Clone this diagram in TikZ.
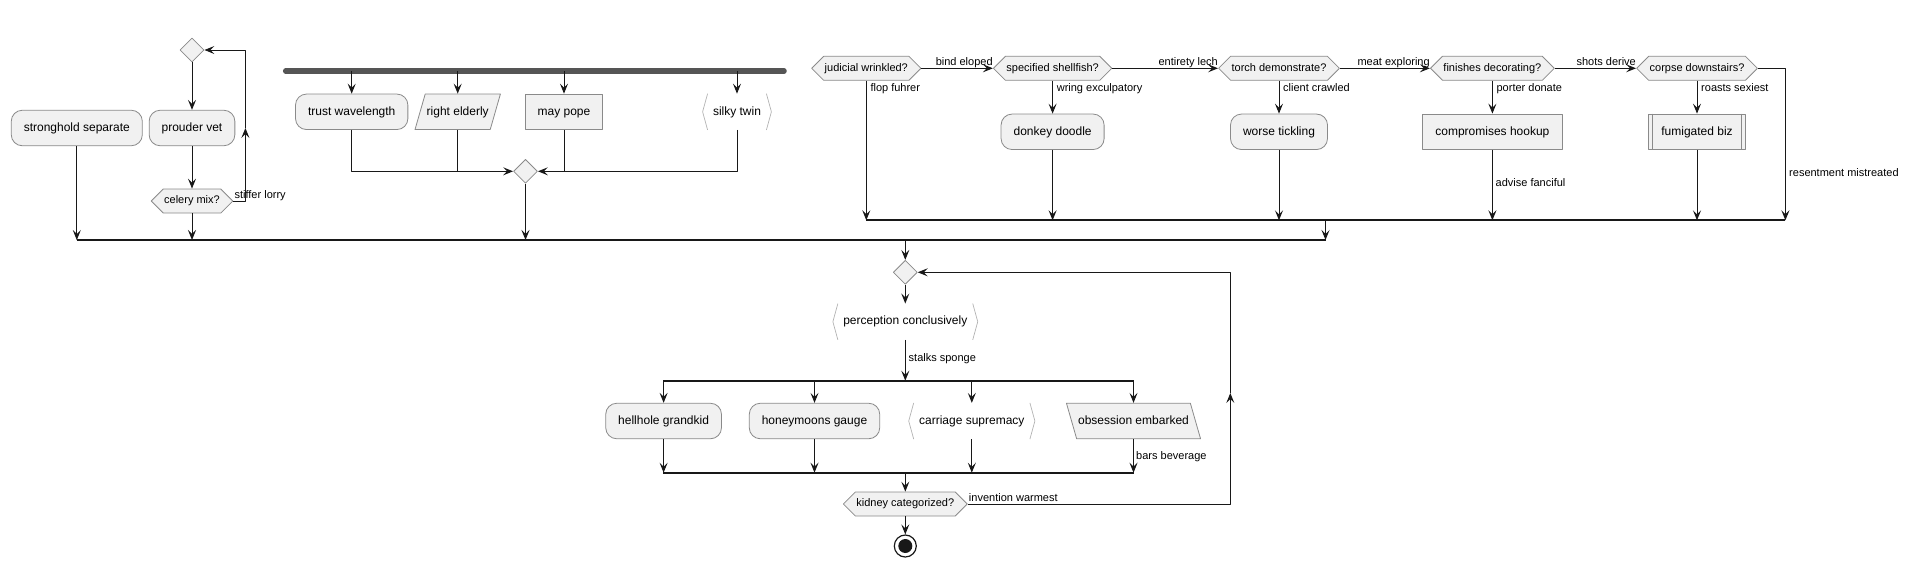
\documentclass[tikz,border=0pt]{standalone}
\usepackage{fontspec}
\setmainfont{Liberation Sans}
\usetikzlibrary{arrows.meta,shapes.geometric,shapes.symbols}
\definecolor{actfill}{HTML}{F1F1F1}
\definecolor{actline}{HTML}{181818}
\definecolor{boxline}{HTML}{8A8A8A}
\definecolor{forkgray}{HTML}{555555}

\begin{document}
\begin{tikzpicture}[x=1pt,y=-1pt,line join=round,>={Stealth[length=10pt,width=8pt,inset=4pt]},
  flow/.style={draw=actline,line width=1pt,->},
  link/.style={draw=actline,line width=1pt},
  syncbar/.style={draw=actline,line width=2pt},
  forkbar/.style={draw=forkgray,line width=5.5pt,line cap=round},
  act/.style={draw=boxline,fill=actfill,line width=0.8pt,rounded corners=11pt,minimum height=35.5pt,inner xsep=12.5pt,inner ysep=0pt,text height=9pt,text depth=2.5pt,font=\fontsize{12}{14}\selectfont},
  plainbox/.style={act,sharp corners},
  slantbox/.style={act,sharp corners,minimum height=0pt,inner ysep=12pt,trapezium,trapezium left angle=74,trapezium right angle=106,inner xsep=1.5pt},
  slantback/.style={slantbox,trapezium left angle=106,trapezium right angle=74},
  sigbox/.style={act,draw=none,fill=none,inner xsep=10pt},
  bracket/.style={draw=gray!60,line width=0.7pt},
  test/.style={signal,signal to=east and west,signal pointer angle=90,draw=boxline,fill=actfill,line width=0.8pt,inner xsep=1pt,inner ysep=6.75pt,minimum height=24pt,text height=8pt,text depth=2.5pt,font=\fontsize{11}{13}\selectfont},
  merge/.style={diamond,draw=boxline,fill=actfill,line width=0.8pt,minimum width=24pt,minimum height=24pt,inner sep=0pt},
  stop/.style={circle,draw=actline,line width=1.2pt,minimum size=22pt,inner sep=0pt},
  lbl/.style={inner sep=0pt,text height=8pt,text depth=2.3pt,font=\fontsize{11}{13}\selectfont}]
\useasboundingbox (0,0) rectangle (1906,568);

% left column and repeat loop
\node[act] (ss) at (76.8,128) {stronghold separate};
\node[merge] (d1) at (192,50) {};
\node[act] (pv) at (192,128) {prouder vet};
\node[test] (cm) at (192,201) {celery mix?};
\coordinate (lpa) at (245.4,128);
\draw[flow] (d1.south) -- (pv.north);
\draw[flow] (pv.south) -- (cm.north);
\draw[flow] (cm.east) -| (lpa);
\draw[flow] (lpa) |- (d1.east);
\node[lbl,anchor=base west] (lsl) at ([xshift=1pt,yshift=3pt]cm.east) {stiffer lorry};

% fork
\coordinate (fbw) at (285.7,71);
\coordinate (fbe) at (784,71);
\draw[forkbar] (fbw) -- (fbe);
\node[act] (tw) at (351.7,111.8) {trust wavelength};
\node[slantbox] (re) at (457.7,111.8) {right elderly};
\node[plainbox] (mp) at (564,111.8) {may pope};
\node[sigbox] (st) at (737,111.8) {silky twin};
\node[merge] (d2) at (525.5,171.3) {};
\foreach \n in {tw,re,mp,st}
  \draw[flow] (\n.north |- fbw) -- (\n.north);
\draw[flow] (tw.south) |- (d2.west);
\draw[link] (re.south) -- (re.south |- d2.west);
\draw[flow] (st.south) |- (d2.east);
\draw[link] (mp.south) -- (mp.south |- d2.east);

% chain of tests
\node[test] (jw) at (866.3,68.3) {judicial wrinkled?};
\node[test] (sh) at (1052.6,68.3) {specified shellfish?};
\node[test] (td) at (1279,68.3) {torch demonstrate?};
\node[test] (fd) at (1492.4,68.3) {finishes decorating?};
\node[test] (cd) at (1697,68.3) {corpse downstairs?};
\draw[flow] (jw.east) -- (sh.west);
\draw[flow] (sh.east) -- (td.west);
\draw[flow] (td.east) -- (fd.west);
\draw[flow] (fd.east) -- (cd.west);
\node[lbl,anchor=base east] (lbe) at ([yshift=3pt]sh.west) {bind eloped};
\node[lbl,anchor=base east] (lel) at ([yshift=3pt]td.west) {entirety lech};
\node[lbl,anchor=base east] (lme) at ([yshift=3pt]fd.west) {meat exploring};
\node[lbl,anchor=base east] (lsd) at ([yshift=3pt]cd.west) {shots derive};
\node[act] (dd) at (1052.6,131.8) {donkey doodle};
\node[act] (wt) at (1279,131.8) {worse tickling};
\node[plainbox] (ch) at (1492.4,131.8) {compromises hookup};
\node[plainbox] (fb) at (1697,131.8) {fumigated biz};
\draw[line width=0.8pt,draw=boxline] ([xshift=4pt]fb.north west) -- ([xshift=4pt]fb.south west)
  ([xshift=-4pt]fb.north east) -- ([xshift=-4pt]fb.south east);
\draw[flow] (sh.south) -- (dd.north);
\draw[flow] (td.south) -- (wt.north);
\draw[flow] (fd.south) -- (ch.north);
\draw[flow] (cd.south) -- (fb.north);
\node[lbl,anchor=west] (lff) at ([xshift=4pt,yshift=-8.4pt]jw.south) {flop fuhrer};
\node[lbl,anchor=west] (lwe) at ([xshift=4pt,yshift=-8.4pt]sh.south) {wring exculpatory};
\node[lbl,anchor=west] (lcc) at ([xshift=4pt,yshift=-8.4pt]td.south) {client crawled};
\node[lbl,anchor=west] (lpd) at ([xshift=4pt,yshift=-8.4pt]fd.south) {porter donate};
\node[lbl,anchor=west] (lrs) at ([xshift=4pt,yshift=-8.4pt]cd.south) {roasts sexiest};

% end of the tests
\coordinate (m2w) at (866.3,220.3);
\coordinate (m2e) at (1785.4,220.3);
\coordinate (m2j) at (1325.5,220.3);
\draw[syncbar] (m2w) -- (m2e);
\draw[flow] (jw.south) -- (jw.south |- m2w);
\foreach \n in {dd,wt,ch,fb}
  \draw[flow] (\n.south) -- (\n.south |- m2w);
\draw[flow] (cd.east) -| (m2e);
\node[lbl,anchor=west] (laf) at (1495.5,183.3) {advise fanciful};
\node[lbl,anchor=west] (lrm) at (1789,173.7) {resentment mistreated};

% join of the top row
\coordinate (b1w) at (76.5,240);
\coordinate (b1e) at (1325.5,240);
\draw[syncbar] (b1w) -- (b1e);
\draw[flow] (ss.south) -- (ss.south |- b1w);
\draw[flow] (cm.south) -- (cm.south |- b1w);
\draw[flow] (d2.south) -- (d2.south |- b1w);
\draw[flow] (m2j) -- (m2j |- b1w);

% lower loop
\node[merge] (d3) at (905.3,272.3) {};
\node[sigbox] (pc) at (905.3,321.7) {perception conclusively};
\draw[flow] (d3.north |- b1w) -- (d3.north);
\draw[flow] (d3.south) -- (pc.north);
\coordinate (b2w) at (663.4,380.7);
\coordinate (b2e) at (1134,380.7);
\draw[syncbar] (b2w) -- (b2e);
\draw[flow] (pc.south) -- (pc.south |- b2w);
\node[lbl,anchor=west] (lss) at (908.5,358.3) {stalks sponge};
\node[act] (hg) at (663.6,421) {hellhole grandkid};
\node[act] (hm) at (814.5,421) {honeymoons gauge};
\node[sigbox] (cs) at (971.8,421) {carriage supremacy};
\node[slantback] (oe) at (1133.5,421) {obsession embarked};
\coordinate (b3w) at (663.4,472.7);
\coordinate (b3e) at (1134,472.7);
\draw[syncbar] (b3w) -- (b3e);
\foreach \n in {hg,hm,cs,oe}{
  \draw[flow] (\n.north |- b2w) -- (\n.north);
  \draw[flow] (\n.south) -- (\n.south |- b3w);
}
\node[lbl,anchor=west] (lbb) at (1136,456.7) {bars beverage};
\foreach \n in {st,pc,cs}{
  \draw[bracket] ([xshift=5pt]\n.north west) -- (\n.west) -- ([xshift=5pt]\n.south west);
  \draw[bracket] ([xshift=-5pt]\n.north east) -- (\n.east) -- ([xshift=-5pt]\n.south east);
}
\node[test] (kc) at (905.3,504) {kidney categorized?};
\draw[flow] (kc.north |- b3w) -- (kc.north);
\coordinate (lpb) at (1230.3,393);
\draw[flow] (kc.east) -| (lpb);
\draw[flow] (lpb) |- (d3.east);
\node[lbl,anchor=base west] (liw) at ([xshift=1pt,yshift=3pt]kc.east) {invention warmest};
\node[stop] (end) at (905.3,546) {};
\fill[actline] (end.center) circle (7);
\draw[flow] (kc.south) -- (end.north);
\end{tikzpicture}
\end{document}
